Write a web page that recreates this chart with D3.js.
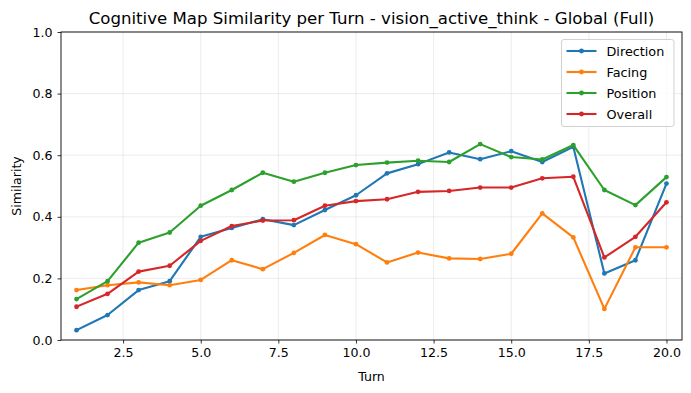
<!DOCTYPE html>
<html><head><meta charset="utf-8">
<script src="https://cdn.jsdelivr.net/npm/d3@7"></script>
<style>body{margin:0;background:#fff}svg{display:block;font-family:"DejaVu Sans",sans-serif}</style>
</head><body>
<svg id="c" width="691" height="393"></svg>
<script>
const turns = [1,2,3,4,5,6,7,8,9,10,11,12,13,14,15,16,17,18,19,20];
const direction = [0.032,0.081,0.162,0.191,0.335,0.364,0.392,0.373,0.422,0.470,0.541,0.571,0.609,0.587,0.613,0.578,0.627,0.216,0.259,0.508];
const facing = [0.162,0.178,0.187,0.178,0.195,0.259,0.230,0.283,0.341,0.311,0.252,0.284,0.265,0.263,0.280,0.411,0.333,0.101,0.301,0.301];
const position = [0.133,0.191,0.316,0.349,0.436,0.487,0.543,0.514,0.543,0.568,0.576,0.582,0.578,0.636,0.594,0.586,0.633,0.487,0.438,0.529];
const overall = [0.108,0.150,0.222,0.241,0.322,0.370,0.388,0.389,0.436,0.451,0.457,0.481,0.484,0.495,0.495,0.525,0.530,0.268,0.335,0.447];
const seriesNames = ["Direction","Facing","Position","Overall"];
const colors = ["#1f77b4","#ff7f0e","#2ca02c","#d62728"];
const xTicks = [2.5,5.0,7.5,10.0,12.5,15.0,17.5,20.0];
const yTicks = [0.0,0.2,0.4,0.6,0.8,1.0];
const titleText = "Cognitive Map Similarity per Turn - vision_active_think - Global (Full)";

const svg = d3.select("#c");
const L = 61, R = 682, T = 32, B = 340;
const x = d3.scaleLinear().domain([0.5,20.5]).range([L,R]);
const y = d3.scaleLinear().domain([0,1]).range([B,T]);

// grid
svg.append("g").selectAll("line").data(xTicks).join("line")
  .attr("x1",d=>x(d)).attr("x2",d=>x(d)).attr("y1",T).attr("y2",B)
  .attr("stroke","#b0b0b0").attr("stroke-opacity",0.3).attr("stroke-width",0.8);
svg.append("g").selectAll("line").data(yTicks).join("line")
  .attr("y1",d=>y(d)).attr("y2",d=>y(d)).attr("x1",L).attr("x2",R)
  .attr("stroke","#b0b0b0").attr("stroke-opacity",0.3).attr("stroke-width",0.8);

// axes
const xa = svg.append("g").attr("transform",`translate(0,${B})`)
  .call(d3.axisBottom(x).tickValues(xTicks).tickFormat(d3.format(".1f")).tickSizeOuter(0).tickSize(3.5).tickPadding(5));
const ya = svg.append("g").attr("transform",`translate(${L},0)`)
  .call(d3.axisLeft(y).tickValues(yTicks).tickFormat(d3.format(".1f")).tickSizeOuter(0).tickSize(3.5).tickPadding(5));
[xa,ya].forEach(a=>{a.select(".domain").remove();
  a.selectAll("text").attr("font-size","12.6px").attr("font-family","DejaVu Sans").attr("fill","#000");
  a.selectAll("line").attr("stroke","#000").attr("stroke-width",0.8);});

// frame
svg.append("rect").attr("x",L).attr("y",T).attr("width",R-L).attr("height",B-T)
  .attr("fill","none").attr("stroke","#000").attr("stroke-width",0.9);

const data = [direction,facing,position,overall];
const line = d3.line().x((d,i)=>x(turns[i])).y(d=>y(d));
data.forEach((s,k)=>{
  const g = svg.append("g");
  g.append("path").attr("d",line(s)).attr("fill","none").attr("stroke",colors[k]).attr("stroke-width",2.1).attr("stroke-linejoin","round").attr("stroke-linecap","square");
  g.selectAll("circle").data(s).join("circle").attr("cx",(d,i)=>x(turns[i])).attr("cy",d=>y(d)).attr("r",2.4).attr("fill",colors[k]);
});

// labels
svg.append("text").attr("x",(L+R)/2).attr("y",24).attr("text-anchor","middle").attr("font-size","16.6px").text(titleText);
svg.append("text").attr("x",(L+R)/2).attr("y",381).attr("text-anchor","middle").attr("font-size","12.6px").text("Turn");
svg.append("text").attr("transform",`translate(21,${(T+B)/2}) rotate(-90)`).attr("text-anchor","middle").attr("font-size","12.6px").text("Similarity");

// legend
const lg = svg.append("g");
lg.append("rect").attr("x",561.5).attr("y",39.5).attr("width",112.5).attr("height",87).attr("rx",2.5)
  .attr("fill","#fff").attr("fill-opacity",0.8).attr("stroke","#ccc").attr("stroke-width",0.9);
seriesNames.forEach((n,k)=>{
  const yy = 51 + k*21;
  lg.append("line").attr("x1",566.5).attr("x2",596.5).attr("y1",yy).attr("y2",yy).attr("stroke",colors[k]).attr("stroke-width",2.1);
  lg.append("circle").attr("cx",581.5).attr("cy",yy).attr("r",2.4).attr("fill",colors[k]);
  lg.append("text").attr("x",606.5).attr("y",yy+4.6).attr("font-size","12.8px").text(n);
});
</script>
</body></html>
